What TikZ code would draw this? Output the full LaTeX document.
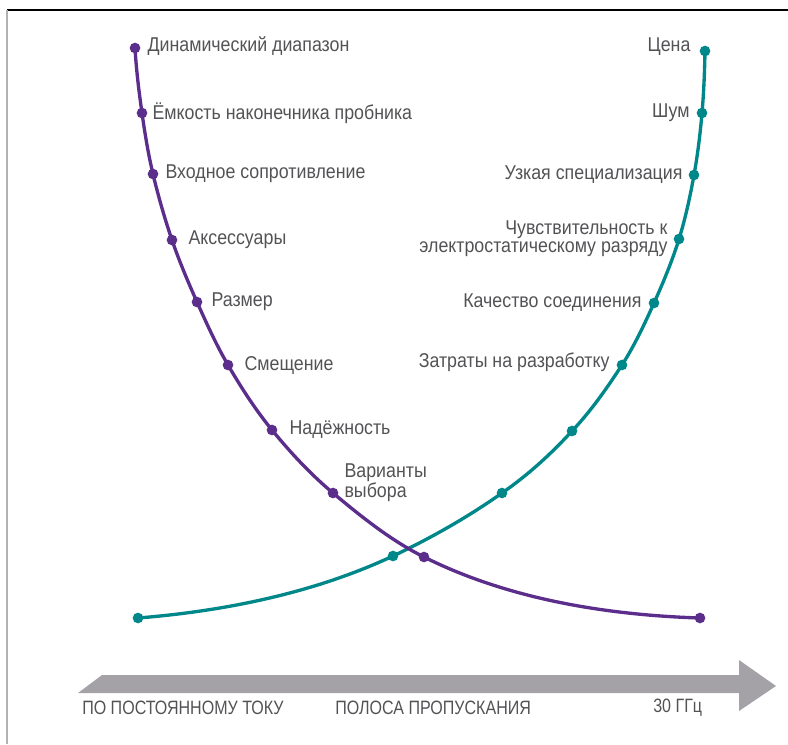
\documentclass[tikz,border=0pt]{standalone}
\usepackage{fontspec}
\usepackage{tikz}
\usetikzlibrary{positioning}
\usepackage{xcolor}
\newfontfamily\labelfont[FakeStretch=0.89]{Liberation Sans}
\newfontfamily\axisfont[FakeStretch=0.83]{Liberation Sans}
\definecolor{probepurple}{HTML}{5B2E8C}
\definecolor{probeteal}{HTML}{00878A}
\definecolor{textgray}{HTML}{535356}
\definecolor{bandgray}{HTML}{A4A2A7}

\begin{document}
\begin{tikzpicture}[
  x=0.75pt, y=-0.75pt,
  dotp/.style={circle, fill=probepurple, inner sep=0pt, minimum size=8pt},
  dott/.style={circle, fill=probeteal, inner sep=0pt, minimum size=8pt},
  lbl/.style={inner sep=0pt, text=textgray,
              font=\labelfont\fontsize{15pt}{13.5pt}\selectfont},
  axislbl/.style={inner sep=0pt, anchor=west, text=textgray,
                  font=\axisfont\fontsize{14.5pt}{17pt}\selectfont},
  curve/.style={line width=2.5pt},
]
  \useasboundingbox (0,0) rectangle (788,744);
  % Frame
  \draw[black, line width=0.8pt] (7,10) -- (788,10);
  \draw[gray!60, line width=1.5pt] (7,10) -- (7,744);
  % Falling curve: probe properties
  \node[dotp] (dyn)    at (135,48)  {};
  \node[dotp] (tipcap) at (142,113) {};
  \node[dotp] (inres)  at (153,174) {};
  \node[dotp] (acc)    at (172,240) {};
  \node[dotp] (size)   at (197,302) {};
  \node[dotp] (offset) at (228,365) {};
  \node[dotp] (rel)    at (272,430) {};
  \node[dotp] (choice) at (333,493) {};
  \node[dotp] (pcross) at (424,557) {};
  \node[dotp] (pend)   at (700,618) {};
  \node[lbl, right=5pt of dyn, yshift=1.5pt] {Динамический диапазон};
  \node[lbl, right=3.5pt of tipcap] {Ёмкость наконечника пробника};
  \node[lbl, right=5pt of inres] {Входное сопротивление};
  \node[lbl, right=8pt of acc] {Аксессуары};
  \node[lbl, right=6.5pt of size] {Размер};
  \node[lbl, right=8pt of offset] {Смещение};
  \node[lbl, right=8.75pt of rel] {Надёжность};
  \node[lbl, right=4.25pt of choice, yshift=7.5pt, align=left] {Варианты\\выбора};
  % Rising curve: bandwidth costs
  \node[dott] (tstart)  at (138,618) {};
  \node[dott] (tcross)  at (393,556) {};
  \node[dott] (tmid)    at (502,493) {};
  \node[dott] (tupper)  at (572,431) {};
  \node[dott] (devcost) at (622,365) {};
  \node[dott] (conn)    at (654,303) {};
  \node[dott] (esd)     at (679,239) {};
  \node[dott] (narrow)  at (694,175) {};
  \node[dott] (noise)   at (702,113) {};
  \node[dott] (price)   at (705,51)  {};
  \node[lbl, left=6.5pt of price, yshift=3pt] {Цена};
  \node[lbl, left=5pt of noise] {Шум};
  \node[lbl, left=4.25pt of narrow] {Узкая специализация};
  \node[lbl, left=4.25pt of esd, align=right]
    {Чувствительность к\\электростатическому разряду};
  \node[lbl, left=5pt of conn] {Качество соединения};
  \node[lbl, left=5pt of devcost, yshift=2pt] {Затраты на разработку};
  % Curves
  \draw[curve, probeteal] (tstart.center)
    .. controls +(87,-7) and +(-79,37) .. (tcross.center)
    .. controls +(38,-18) and +(-34,24) .. (tmid.center)
    .. controls +(26,-18) and +(-21,23) .. (tupper.center)
    .. controls +(19,-20) and +(-15,23) .. (devcost.center)
    .. controls +(12.6,-19.6) and +(-9.6,21.2) .. (conn.center)
    .. controls +(9.4,-20.9) and +(-6.8,21.9) .. (esd.center)
    .. controls +(6.5,-20.9) and +(-3.9,21.5) .. (narrow.center)
    .. controls +(3.7,-20.5) and +(-1.8,20.7) .. (noise.center)
    .. controls +(1.8,-20.6) and +(-0.4,20.7) .. (price.center);
  \draw[curve, probepurple] (dyn.center)
    .. controls +(1.3,21.8) and +(-3.1,-21.6) .. (tipcap.center)
    .. controls +(2.9,20.5) and +(-4.8,-20.1) .. (inres.center)
    .. controls +(5.3,22.3) and +(-7.4,-21.7) .. (acc.center)
    .. controls +(7.2,21.1) and +(-9.1,-20.4) .. (size.center)
    .. controls +(9.6,21.4) and +(-11.8,-20.2) .. (offset.center)
    .. controls +(13.2,22.6) and +(-16.6,-20.3) .. (rel.center)
    .. controls +(18.5,22.6) and +(-22.4,-18.7) .. (choice.center)
    .. controls +(28.5,23.8) and +(-33.2,-16.6) .. (pcross.center)
    .. controls +(84,42) and +(-94,-3) .. (pend.center);
  % Bandwidth axis
  \fill[bandgray] (78,693) -- (102,675) -- (739,675) -- (739,660)
    -- (776,686) -- (739,711) -- (739,693) -- cycle;
  \node[axislbl] (dc) at (82,708) {ПО ПОСТОЯННОМУ ТОКУ};
  \node[axislbl] (bw) at (335,708) {ПОЛОСА ПРОПУСКАНИЯ};
  \node[axislbl] (ghz) at (653,708) {30 ГГц};
\end{tikzpicture}
\end{document}
